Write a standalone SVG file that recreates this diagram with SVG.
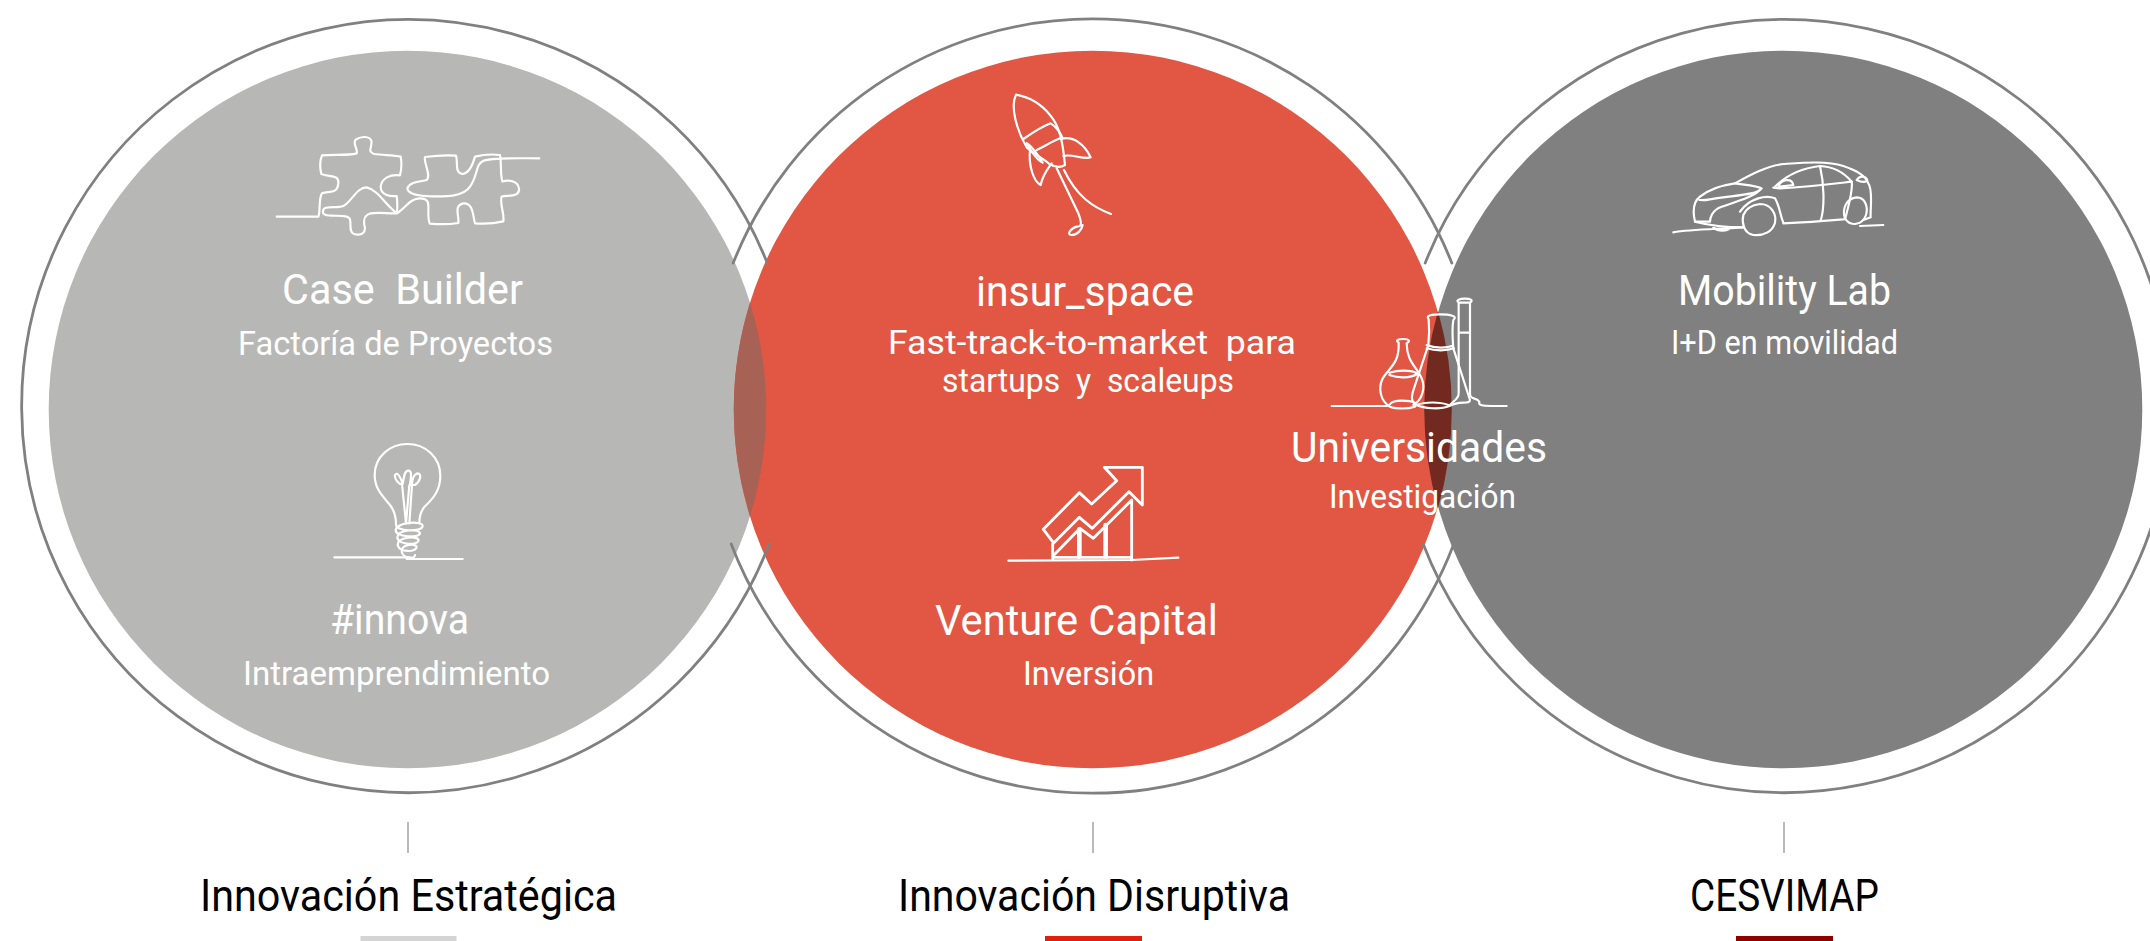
<svg xmlns="http://www.w3.org/2000/svg" width="2150" height="941" viewBox="0 0 2150 941">
<style>
text{font-family:"Roboto","Liberation Sans",sans-serif;fill:#fff}
.t{font-size:43px}
.s{font-size:33px}
.b{font-size:44px;fill:#000}
.ring{fill:none;stroke:#808080;stroke-width:2.8;stroke-linecap:round}
.ic{fill:none;stroke:#fff;stroke-width:6.5;stroke-linecap:round;stroke-linejoin:round}
.tick{stroke:#8c8c8c;stroke-width:1.2}
</style>
<rect width="2150" height="941" fill="#fff"/>
<g id="discs">
<circle cx="407.5" cy="409.5" r="358.8" fill="#b7b7b5"/>
<circle cx="1092.5" cy="409.5" r="358.8" fill="#e25743"/>
<circle cx="1783.5" cy="409.5" r="358.8" fill="#808080"/>
<path d="M750,303A358.8 358.8 0 0 1 750,516A358.8 358.8 0 0 1 750,303Z" fill="#a86155"/>
<path d="M1438,311A358.8 358.8 0 0 1 1438,508A358.8 358.8 0 0 1 1438,311Z" fill="#722a20"/>
</g>
<g id="rings">
<path class="ring" d="M767.2,263A386.5 386.5 0 1 0 769.2,544"/>
<path class="ring" d="M733.2,263A386.5 386.5 0 0 1 1451.8,263"/>
<path class="ring" d="M731.2,544A386.5 386.5 0 0 0 1453.8,544"/>
<path class="ring" d="M1425.2,263A386.5 386.5 0 1 1 1423.2,544"/>
</g>
<g id="connectors">
<line class="tick" x1="408" y1="822" x2="408" y2="853"/>
<line class="tick" x1="1093" y1="822" x2="1093" y2="853"/>
<line class="tick" x1="1784" y1="822" x2="1784" y2="853"/>
</g>
<g id="case-builder">
<g transform="translate(250,100) scale(.33333)">
<path class="ic" d="M80,350H205C212,335 205,295 216,280C235,272 262,285 265,250C268,222 235,232 214,222C210,205 210,180 216,166C250,162 290,168 320,160C325,145 305,130 318,118C335,108 358,108 364,122C368,140 350,155 372,162C400,166 430,165 452,170C456,190 454,210 450,226C420,222 395,235 392,260C392,285 420,290 440,288C443,305 442,325 441,340C410,320 385,270 350,262C320,262 305,305 280,318C262,325 235,318 222,326C212,342 225,346 245,347C270,348 296,345 300,358C304,375 296,395 312,402C335,408 350,398 343,375C340,355 345,345 362,340C390,336 420,342 441,340C465,325 480,295 510,295C540,295 535,315 535,335C535,350 535,365 540,371C565,373 600,373 625,369C628,345 610,318 640,310C670,308 668,345 675,370C705,372 735,370 760,364C764,340 748,310 755,290C775,285 810,292 807,265C803,240 775,240 757,244C750,220 755,190 750,165C725,162 695,165 675,170C668,195 655,220 638,222C612,218 625,185 618,167C590,165 555,167 525,171C520,190 545,225 530,240C510,245 480,245 472,265C475,285 510,288 545,289C590,290 640,290 660,260C685,225 675,195 700,182C730,172 810,175 868,175"/>
</g>
<text class="t" x="282" y="304" textLength="241" lengthAdjust="spacingAndGlyphs" xml:space="preserve">Case  Builder</text>
<text class="s" x="238" y="355" textLength="315" lengthAdjust="spacingAndGlyphs">Factoría de Proyectos</text>
</g>
<g id="innova">
<g transform="translate(300,420) scale(.33333)">
<path class="ic" d="M103,412H330M320,417H488"/>
<path class="ic" d="M288,312C288,290 285,275 270,255C245,225 224,205 224,165C224,110 270,72 322,72C375,72 421,110 421,168C421,215 395,240 372,262C362,275 358,295 358,310"/>
<path class="ic" d="M318,310L306,192C300,195 283,180 285,165C292,152 303,175 308,192M308,192C312,175 312,152 325,152C338,152 332,175 330,195M318,310L328,195L345,195C360,185 368,160 352,160C340,165 336,180 336,195L328,310"/>
<path class="ic" d="M288,312C285,335 365,338 368,318C370,302 292,305 287,330C285,352 358,355 360,340C358,325 292,328 292,352C293,375 355,378 356,360C350,345 292,352 293,375C298,398 350,398 350,380C345,368 300,375 305,395C310,415 345,420 345,405"/>
</g>
<text class="t" x="330" y="634" textLength="139" lengthAdjust="spacingAndGlyphs">#innova</text>
<text class="s" x="243" y="685" textLength="307" lengthAdjust="spacingAndGlyphs">Intraemprendimiento</text>
</g>
<g id="insur-space">
<g transform="translate(880,70) scale(.33333)">
<path class="ic" d="M408,74C440,80 478,95 510,135C540,170 548,215 555,285C540,295 522,290 508,282C490,265 465,255 440,232C410,180 390,110 408,74Z"/>
<path class="ic" d="M430,207C455,190 490,168 512,160C530,170 545,195 548,205M470,240C495,228 515,215 540,205M440,220C452,225 480,262 488,278C478,275 455,250 440,220"/>
<path class="ic" d="M542,207C580,195 615,225 632,262C610,270 575,250 550,258M450,240C445,290 462,335 482,345C490,310 505,295 515,280"/>
<path class="ic" d="M530,295L595,430C610,468 600,470 590,470C572,475 558,495 575,495C592,495 605,480 608,465M552,300C590,380 640,412 693,432"/>
</g>
<text class="t" x="976" y="306" textLength="218" lengthAdjust="spacingAndGlyphs">insur_space</text>
<text class="s" x="888" y="354" textLength="408" lengthAdjust="spacingAndGlyphs" xml:space="preserve">Fast-track-to-market  para</text>
<text class="s" x="942" y="392" textLength="292" lengthAdjust="spacingAndGlyphs" xml:space="preserve">startups  y  scaleups</text>
</g>
<g id="venture-capital">
<g transform="translate(980,440) scale(.33333)">
<path class="ic" d="M85,362L455,360L595,353"/>
<path class="ic" style="stroke-width:8.5" d="M218,305L190,268L298,158L335,192L410,122L373,82H487V195L447,155L337,265L298,232L218,312V358"/>
<path class="ic" style="stroke-width:8.5" d="M222,345L300,265L340,295L455,180V360M222,352H455"/>
<path class="ic" style="stroke-width:14" d="M298,268V350M377,255V350"/>
</g>
<text class="t" x="935" y="635" textLength="283" lengthAdjust="spacingAndGlyphs">Venture Capital</text>
<text class="s" x="1023" y="685" textLength="131" lengthAdjust="spacingAndGlyphs">Inversión</text>
</g>
<g id="universidades">
<g transform="translate(1270,280) scale(.33333)">
<path class="ic" d="M185,378H350C365,378 352,362 395,362C435,362 445,372 435,380C410,388 365,388 352,375C325,350 325,310 345,285C365,258 388,245 386,188C375,180 385,177 400,177C420,177 420,185 410,190C410,245 440,260 455,295C468,325 455,360 430,375"/>
<path class="ic" d="M358,285C385,295 420,295 442,282M358,278C385,270 420,270 438,278"/>
<path class="ic" d="M476,118C465,105 490,103 510,103C540,103 565,108 550,120C545,150 548,180 550,205L600,360C600,375 570,360 538,378C510,390 460,385 440,375C420,365 425,345 432,325L475,195C478,165 478,140 476,118Z"/>
<path class="ic" d="M470,195C495,205 530,205 548,197M470,205C495,213 530,213 552,205M440,375C465,365 510,365 535,375"/>
<path class="ic" d="M566,68C555,60 570,56 585,56C600,56 612,60 600,68M566,68C566,150 566,270 566,340C566,360 545,365 540,375M600,68V340C600,362 620,350 628,365C625,378 635,378 710,378M566,158H600M566,68H600"/>
</g>
<text class="t" x="1291" y="462" textLength="256" lengthAdjust="spacingAndGlyphs">Universidades</text>
<text class="s" x="1329" y="508" textLength="187" lengthAdjust="spacingAndGlyphs">Investigación</text>
</g>
<g id="mobility-lab">
<g transform="translate(1660,140) scale(.33333)">
<path class="ic" d="M40,277C90,268 150,268 250,262M160,263C175,275 200,275 210,265M370,250C420,248 470,245 550,238M600,258L670,255"/>
<path class="ic" d="M300,192C335,192 350,225 345,248C338,275 310,288 280,285C250,280 245,245 250,225C258,205 275,195 300,192Z"/>
<path class="ic" d="M590,172C615,172 625,200 618,225C608,255 570,262 555,235C545,205 560,175 590,172Z"/>
<path class="ic" d="M250,262C160,262 125,250 105,245C98,215 100,185 120,170C150,145 190,135 225,130C270,105 320,78 370,72C430,68 500,62 550,78C590,92 615,105 625,130C640,150 630,210 632,232L610,240"/>
<path class="ic" d="M225,130C260,135 295,138 305,145C290,165 230,165 150,178C130,182 120,180 118,180M305,145C285,170 230,185 185,200C155,210 150,235 150,245L105,245"/>
<path class="ic" d="M240,215C270,172 320,165 345,175C360,200 360,225 370,248M345,140C375,110 420,85 480,78C520,80 550,95 575,125C530,130 450,140 360,145L340,143"/>
<path class="ic" d="M355,138C365,118 395,112 400,135L360,140M480,78C492,130 495,200 482,242M575,125C580,150 565,200 555,238M590,120C600,105 620,108 622,122C612,130 600,125 590,120"/>
</g>
<text class="t" x="1678" y="305" textLength="213" lengthAdjust="spacingAndGlyphs">Mobility Lab</text>
<text class="s" x="1671" y="354" textLength="227" lengthAdjust="spacingAndGlyphs">I+D en movilidad</text>
</g>
<g id="innovacion-estrategica">
<text class="b" x="200" y="911" textLength="417" lengthAdjust="spacingAndGlyphs">Innovación Estratégica</text>
<rect x="360.5" y="936" width="96" height="5" fill="#d4d4d4"/>
</g>
<g id="innovacion-disruptiva">
<text class="b" x="898" y="911" textLength="392" lengthAdjust="spacingAndGlyphs">Innovación Disruptiva</text>
<rect x="1045" y="936" width="97" height="5" fill="#dd2010"/>
</g>
<g id="cesvimap">
<text class="b" x="1690" y="911" textLength="189" lengthAdjust="spacingAndGlyphs">CESVIMAP</text>
<rect x="1736" y="936" width="97" height="5" fill="#8f0000"/>
</g>
</svg>
